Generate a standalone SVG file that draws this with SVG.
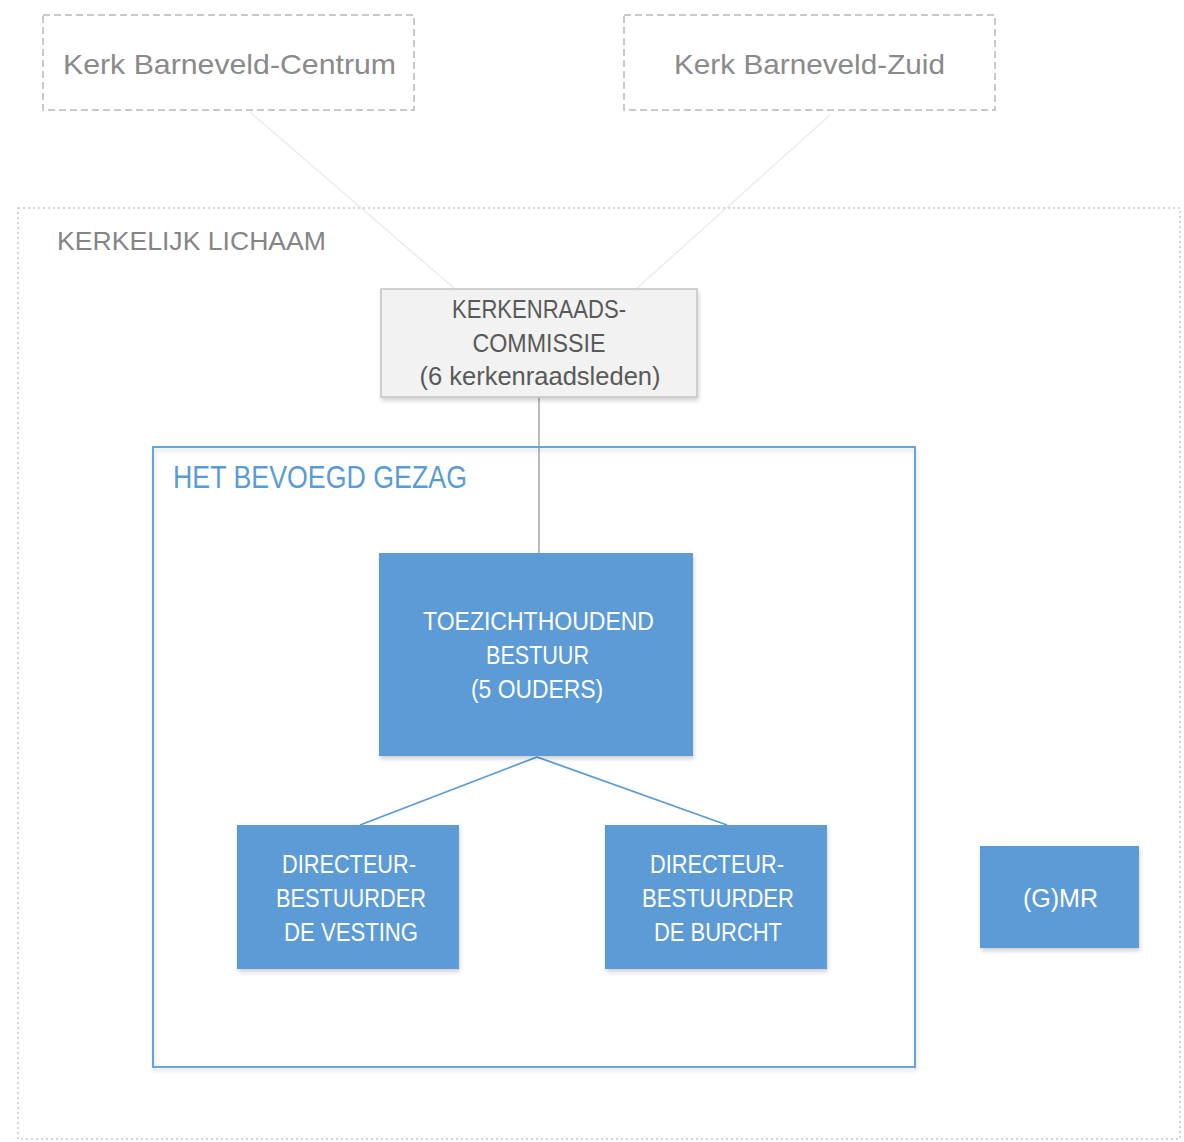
<svg xmlns="http://www.w3.org/2000/svg" width="1184" height="1142" viewBox="0 0 1184 1142">
<defs>
<filter id="sh" x="-10%" y="-10%" width="130%" height="130%">
<feGaussianBlur in="SourceAlpha" stdDeviation="2"/>
<feOffset dx="1" dy="3" result="b"/>
<feComponentTransfer><feFuncA type="linear" slope="0.18"/></feComponentTransfer>
<feMerge><feMergeNode/><feMergeNode in="SourceGraphic"/></feMerge>
</filter>
<style>
text{font-family:"Liberation Sans",Arial,sans-serif;}
.kerk{fill:#fff;stroke:#b8b8b8;stroke-width:1.5;stroke-dasharray:7,4;}
.kerkt{fill:#8a8a8a;font-size:28px;text-anchor:middle;}
.blue{fill:#5b9bd5;filter:url(#sh);}
.wt{fill:#fff;font-size:25px;text-anchor:middle;}
.gt{fill:#595959;font-size:25px;text-anchor:middle;}
.faint{stroke:#ececec;stroke-width:1.5;fill:none;}
</style>
</defs>
<rect width="1184" height="1142" fill="#fff"/>

<g id="kerkelijk-lichaam">
<rect x="18" y="208" width="1162" height="931" fill="none" stroke="#c8c8c8" stroke-width="1.5" stroke-dasharray="2,3"/>
<text x="57" y="250" fill="#858585" font-size="26" textLength="269" lengthAdjust="spacingAndGlyphs">KERKELIJK LICHAAM</text>
</g>

<g id="connectors">
<line class="faint" x1="250" y1="112" x2="455" y2="289"/>
<line class="faint" x1="830" y1="115" x2="636" y2="289"/>
<line x1="539" y1="397" x2="539" y2="553" stroke="#a6a6a6" stroke-width="1.5"/>
<line x1="537" y1="757" x2="360" y2="825" stroke="#5b9bd5" stroke-width="1.8"/>
<line x1="537" y1="757" x2="727" y2="825" stroke="#5b9bd5" stroke-width="1.8"/>
</g>

<g id="kerk-centrum">
<rect class="kerk" x="43" y="15" width="371" height="95"/>
<text class="kerkt" x="229.5" y="74" textLength="333" lengthAdjust="spacingAndGlyphs">Kerk Barneveld-Centrum</text>
</g>

<g id="kerk-zuid">
<rect class="kerk" x="624" y="15" width="371" height="95"/>
<text class="kerkt" x="809.5" y="74" textLength="271" lengthAdjust="spacingAndGlyphs">Kerk Barneveld-Zuid</text>
</g>

<g id="kerkenraadscommissie">
<rect x="381" y="289" width="316" height="108" fill="#f2f2f2" stroke="#c4c4c4" stroke-width="1.5" filter="url(#sh)"/>
<text class="gt" x="539" y="318" textLength="174" lengthAdjust="spacingAndGlyphs">KERKENRAADS-</text>
<text class="gt" x="539" y="352" textLength="133" lengthAdjust="spacingAndGlyphs">COMMISSIE</text>
<text class="gt" x="540" y="385" textLength="241" lengthAdjust="spacingAndGlyphs">(6 kerkenraadsleden)</text>
</g>

<g id="bevoegd-gezag">
<rect x="153" y="447" width="762" height="620" fill="none" stroke="#5b9bd5" stroke-width="1.8" filter="url(#sh)"/>
<text x="173" y="488" fill="#5b9bd5" font-size="31" textLength="294" lengthAdjust="spacingAndGlyphs">HET BEVOEGD GEZAG</text>
</g>

<g id="toezichthoudend-bestuur">
<rect class="blue" x="379" y="553" width="314" height="203"/>
<text class="wt" x="538.5" y="630" textLength="231" lengthAdjust="spacingAndGlyphs">TOEZICHTHOUDEND</text>
<text class="wt" x="537.5" y="664" textLength="103" lengthAdjust="spacingAndGlyphs">BESTUUR</text>
<text class="wt" x="537" y="698" textLength="132" lengthAdjust="spacingAndGlyphs">(5 OUDERS)</text>
</g>

<g id="directeur-vesting">
<rect class="blue" x="237" y="825" width="222" height="144"/>
<text class="wt" x="349" y="873" textLength="134" lengthAdjust="spacingAndGlyphs">DIRECTEUR-</text>
<text class="wt" x="351" y="907" textLength="150" lengthAdjust="spacingAndGlyphs">BESTUURDER</text>
<text class="wt" x="351" y="941" textLength="134" lengthAdjust="spacingAndGlyphs">DE VESTING</text>
</g>

<g id="directeur-burcht">
<rect class="blue" x="605" y="825" width="222" height="144"/>
<text class="wt" x="717" y="873" textLength="134" lengthAdjust="spacingAndGlyphs">DIRECTEUR-</text>
<text class="wt" x="718" y="907" textLength="152" lengthAdjust="spacingAndGlyphs">BESTUURDER</text>
<text class="wt" x="718" y="941" textLength="128" lengthAdjust="spacingAndGlyphs">DE BURCHT</text>
</g>

<g id="gmr">
<rect class="blue" x="980" y="846" width="159" height="102"/>
<text class="wt" x="1060.5" y="907" textLength="75" lengthAdjust="spacingAndGlyphs">(G)MR</text>
</g>
</svg>
